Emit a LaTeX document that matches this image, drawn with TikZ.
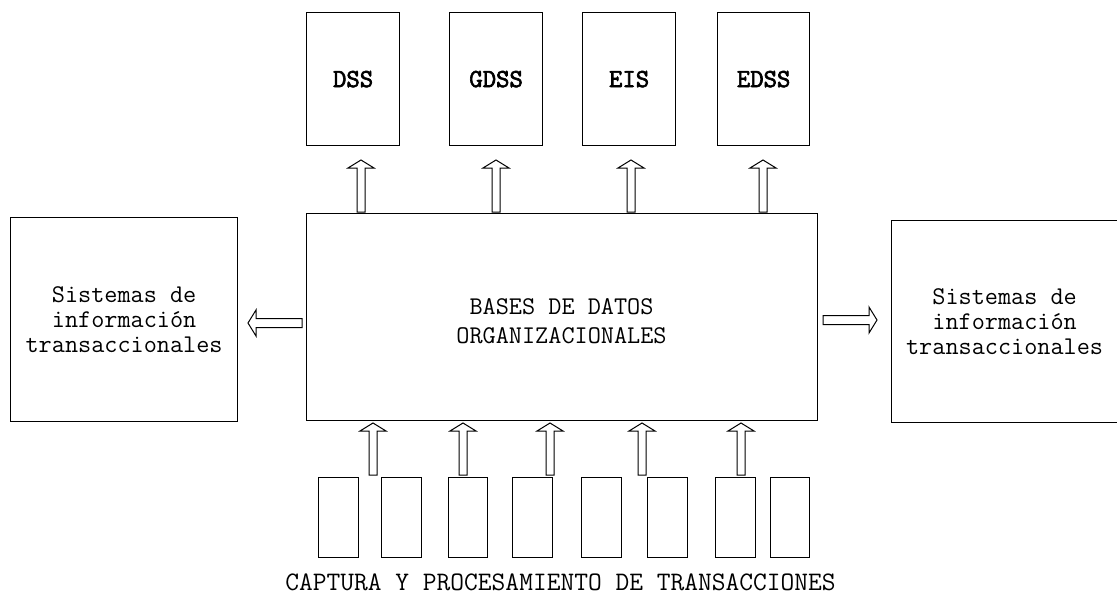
\documentclass[tikz,border=0pt]{standalone}
\usepackage{fontspec}
\newfontfamily\boldtt[FakeBold=2.5]{Latin Modern Mono}
\begin{document}
\begin{tikzpicture}[x=1pt,y=-1pt,
  box/.style={draw=black,line width=1.2pt,inner sep=0pt,anchor=north west},
  txt/.style={font=\fontsize{25.5}{25}\ttfamily,align=center,inner sep=0pt},
  btxt/.style={font=\fontsize{26}{25}\boldtt,inner sep=0pt},
  blk/.style={draw=black,line width=1pt,fill=white,line join=miter},
  uparr/.pic={\draw[blk] (-4,0) -- (-4,-44) -- (-13,-44) -- (0,-52) -- (13,-44) -- (4,-44) -- (4,0) -- cycle;},
  leftarr/.pic={\draw[blk] (0,-4.5) -- (-46,-4.5) -- (-46,-13) -- (-54,0) -- (-46,13) -- (-46,4.5) -- (0,4.5) -- cycle;},
  rightarr/.pic={\draw[blk] (0,-4.5) -- (46,-4.5) -- (46,-13) -- (54,0) -- (46,13) -- (46,4.5) -- (0,4.5) -- cycle;},
]
\useasboundingbox[fill=white] (0,0) rectangle (1117,595);
% top boxes
\node[box,minimum width=93pt,minimum height=133pt] (dss) at (306,12) {};
\node[btxt] (dsst) at (dss.center) {DSS};
\node[box,minimum width=93pt,minimum height=133pt] (gdss) at (449,12) {};
\node[btxt] (gdsst) at (gdss.center) {GDSS};
\node[box,minimum width=93pt,minimum height=133pt] (eis) at (582,12) {};
\node[btxt] (eist) at (eis.center) {EIS};
\node[box,minimum width=92pt,minimum height=133pt] (edss) at (717,12) {};
\node[btxt] (edsst) at (edss.center) {EDSS};
% main box
\node[box,minimum width=511pt,minimum height=207pt] (main) at (306,213) {};
\node[txt,font=\fontsize{25.5}{29}\ttfamily] (maint) at (561.5,321.5) {BASES DE DATOS\\ORGANIZACIONALES};
% side boxes
\node[box,minimum width=227pt,minimum height=204pt] (left) at (10,217) {};
\node[txt] (leftt) at (left.center) {Sistemas de\\información\\transaccionales};
\node[box,minimum width=226pt,minimum height=202pt] (right) at (891,220) {};
\node[txt] (rightt) at (right.center) {Sistemas de\\información\\transaccionales};
% small boxes
\foreach \n/\x/\w in {1/318/40,2/381/40,3/448/39,4/512/40,5/581/40,6/647/40,7/715/40,8/770/39}
  \node[box,minimum width=\w pt,minimum height=80pt] (s\n) at (\x,477) {};
\node[font=\fontsize{26.7}{25}\ttfamily,inner sep=0pt] (capt) at (560.5,582) {CAPTURA Y PROCESAMIENTO DE TRANSACCIONES};
% block arrows
\foreach \x in {361,496,631,763} \pic at (\x,212) {uparr};
\foreach \x in {373,463,550,642,741} \pic at (\x,475) {uparr};
\pic at (302,323) {leftarr};
\pic at (823,320) {rightarr};
\end{tikzpicture}
\end{document}
